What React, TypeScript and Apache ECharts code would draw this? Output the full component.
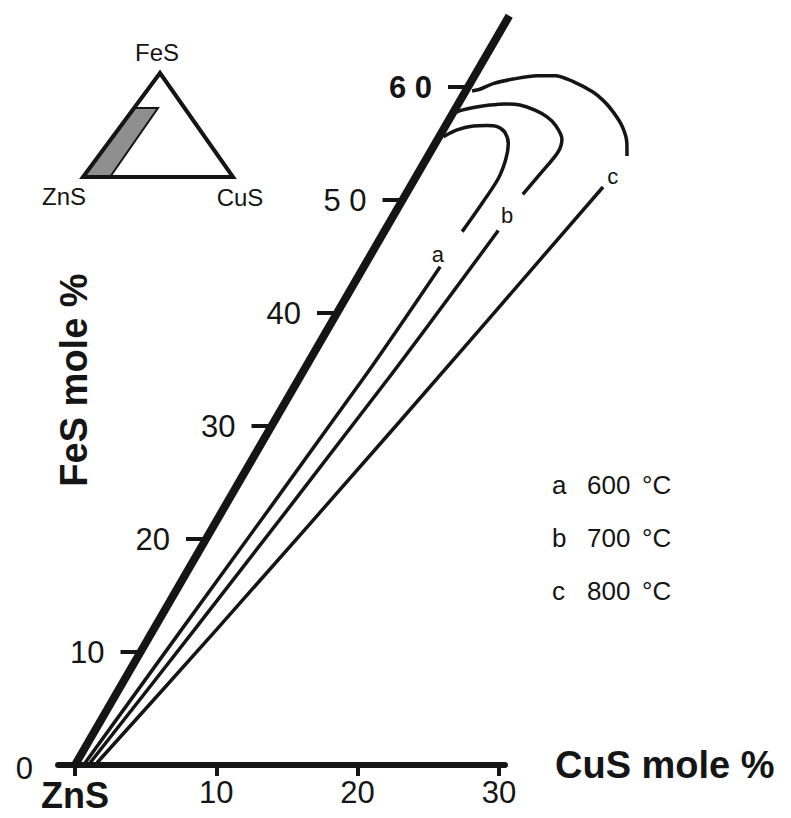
import React, { useEffect, useRef } from "react";
import * as echarts from "echarts";

// ---- axis ticks ----
const cusTicks = [0, 10, 20, 30];
const cusTickLabels = ["ZnS", "10", "20", "30"];
const fesTicks = [0, 10, 20, 30, 40, 50, 60];
const fesTickLabels = ["0", "10", "20", "30", "40", "5 0", "6 0"];
const fesAxisEnd = 66.3;

// ---- curves, points as [CuS mole %, FeS mole %] ----
const curveALower = [[0.63, 0.2], [1.99, 12.0], [4.55, 34.2], [5.4, 44.1]];
const curveAUpper = [[5.52, 47.2], [5.76, 49.6], [5.9, 51.9], [5.64, 53.6], [5.17, 55.0], [4.46, 56.0], [3.69, 56.5], [2.9, 56.6], [1.95, 56.55], [0.99, 56.2], [0.3, 55.6]];
const curveBLower = [[0.98, 0.2], [2.91, 12.0], [6.32, 34.2], [8.03, 47.3]];
const curveBUpper = [[8.28, 50.5], [8.69, 52.4], [9.04, 54.25], [8.78, 55.4], [7.78, 56.6], [6.82, 57.35], [5.69, 57.95], [4.42, 58.4], [3.31, 58.5], [2.29, 58.4], [1.32, 58.2], [0.52, 57.95], [0.1, 57.7]];
const curveCLower = [[1.47, 0.2], [4.47, 12.0], [8.89, 30.4], [13.66, 51.15]];
const curveCUpper = [[14.08, 53.9], [13.51, 55.1], [12.5, 56.55], [11.29, 57.8], [10.2, 58.75], [9.05, 59.55], [7.18, 60.5], [5.71, 61.0], [4.43, 61.0], [2.86, 60.7], [1.64, 60.3], [0.93, 59.8], [0.45, 59.65]];

const curveLetters = ["a", "b", "c"];
const curveLetterPos = [[4.73, 45.2], [8.05, 48.6], [13.91, 52.1]];

// ---- legend ----
const legendLetters = ["a", "b", "c"];
const legendTemps = ["600", "700", "800"];
const legendUnit = "°C";

// ---- inset ternary labels ----
const insetLabels = ["FeS", "ZnS", "CuS"];

// ---- geometry (skewed axes) ----
const PX_CUS = 14.13; // px per CuS unit
const PX_FES_Y = 11.3; // vertical px per FeS unit
const SHEAR = 6.55 / 14.13; // horizontal shift per FeS unit, in CuS units
const ORIGIN_X = 75;
const ORIGIN_Y = 765;
const X_MIN = -1.2;
const X_MAX = 30.43;
const X_MAX_DATA = 48;
const Y_MAX = 67.5;

const INK = "#151515";
const FONT = '"Liberation Sans", Arial, Helvetica, sans-serif';

const shear = (p: number[]) => [p[0] + SHEAR * p[1], p[1]];

export default function App() {
  const ref = useRef<HTMLDivElement>(null);
  useEffect(() => {
    if (!ref.current) return;
    const chart = echarts.init(ref.current, undefined, { renderer: "svg" });

    const curve = (data: number[][]) => ({
      type: "line",
      xAxisIndex: 0,
      yAxisIndex: 0,
      data: data.map(shear),
      showSymbol: false,
      smooth: 0.3,
      clip: false,
      lineStyle: { color: INK, width: 3.5 },
      silent: true,
      z: 3,
    });

    const graphic: any[] = [];
    // inset triangle
    graphic.push({
      type: "polygon",
      shape: { points: [[83, 177], [135, 108], [158, 108], [110, 177]] },
      style: { fill: "#8f8f8f", stroke: INK, lineWidth: 2 },
    });
    graphic.push({
      type: "polygon",
      shape: { points: [[160, 73], [83, 177], [233, 177]] },
      style: { fill: "none", stroke: INK, lineWidth: 4 },
    });
    const insetPos = [[157, 52], [64, 196], [240, 197]];
    insetLabels.forEach((t, i) =>
      graphic.push({
        type: "text",
        x: insetPos[i][0],
        y: insetPos[i][1],
        style: { text: t, fontSize: 24, fontFamily: FONT, fill: INK, align: "center", verticalAlign: "middle" },
      })
    );
    // FeS axis title
    graphic.push({
      type: "text",
      x: 74,
      y: 380,
      rotation: Math.PI / 2,
      style: { text: "FeS mole %", fontSize: 38, fontWeight: "bold", fontFamily: FONT, fill: INK, align: "center", verticalAlign: "middle" },
    });
    // legend
    const legendY = [485, 538, 591];
    legendLetters.forEach((l, i) => {
      graphic.push({ type: "text", x: 552, y: legendY[i], style: { text: l, fontSize: 26, fontFamily: FONT, fill: INK, align: "left", verticalAlign: "middle" } });
      graphic.push({ type: "text", x: 587, y: legendY[i], style: { text: legendTemps[i], fontSize: 26, fontFamily: FONT, fill: INK, align: "left", verticalAlign: "middle" } });
      graphic.push({ type: "text", x: 642, y: legendY[i], style: { text: legendUnit, fontSize: 26, fontFamily: FONT, fill: INK, align: "left", verticalAlign: "middle" } });
    });

    const gridTop = ORIGIN_Y - Y_MAX * PX_FES_Y;
    const gridHeight = Y_MAX * PX_FES_Y;
    const gridLeft = ORIGIN_X + X_MIN * PX_CUS;

    const option: any = {
      animation: false,
      backgroundColor: "#ffffff",
      grid: [
        // data grid (wide, hidden axes)
        { left: gridLeft, width: (X_MAX_DATA - X_MIN) * PX_CUS, top: gridTop, height: gridHeight, containLabel: false },
        // visible CuS axis grid
        { left: gridLeft, width: (X_MAX - X_MIN) * PX_CUS, top: gridTop, height: gridHeight, containLabel: false },
      ],
      xAxis: [
        { type: "value", gridIndex: 0, min: X_MIN, max: X_MAX_DATA, show: false },
        {
          type: "value",
          gridIndex: 1,
          min: X_MIN,
          max: X_MAX,
          axisLine: { show: true, onZero: false, lineStyle: { color: INK, width: 6 } },
          axisTick: { show: true, customValues: cusTicks, length: 11, lineStyle: { color: INK, width: 4 } },
          axisLabel: {
            show: true,
            customValues: cusTicks,
            margin: 12,
            formatter: (v: number) => {
              const i = cusTicks.indexOf(Math.round(v));
              const t = i >= 0 ? cusTickLabels[i] : "";
              return i === 0 ? "{z|" + t + "}" : t;
            },
            color: INK,
            fontSize: 31,
            fontFamily: FONT,
            rich: { z: { fontSize: 36, fontWeight: "bold", fontFamily: FONT, color: INK } },
          },
          splitLine: { show: false },
          name: "CuS mole %",
          nameLocation: "end",
          nameGap: 50,
          nameTextStyle: { fontSize: 38, fontWeight: "bold", fontFamily: FONT, color: INK, align: "left", verticalAlign: "middle", padding: [10, 0, 0, 0] },
        },
      ],
      yAxis: [
        { type: "value", gridIndex: 0, min: 0, max: Y_MAX, show: false },
        { type: "value", gridIndex: 1, min: 0, max: Y_MAX, show: false },
      ],
      graphic,
      series: [
        {
          type: "line",
          xAxisIndex: 0,
          yAxisIndex: 0,
          data: [shear([0, 0]), shear([0, fesAxisEnd])],
          showSymbol: false,
          clip: false,
          silent: true,
          lineStyle: { color: INK, width: 8 },
          z: 4,
        },
        curve(curveALower),
        curve(curveAUpper),
        curve(curveBLower),
        curve(curveBUpper),
        curve(curveCLower),
        curve(curveCUpper),
        {
          type: "custom",
          coordinateSystem: "cartesian2d",
          xAxisIndex: 0,
          yAxisIndex: 0,
          data: fesTicks.map((v, i) => [v, i]),
          clip: false,
          silent: true,
          z: 5,
          renderItem: (params: any, api: any) => {
            const v = api.value(0) as number;
            const idx = api.value(1) as number;
            const p = api.coord(shear([0, v]));
            const children: any[] = [];
            if (v > 0) {
              children.push({
                type: "line",
                shape: { x1: p[0] - 20, y1: p[1], x2: p[0], y2: p[1] },
                style: { stroke: INK, lineWidth: 4 },
              });
            }
            children.push({
              type: "text",
              style: {
                text: fesTickLabels[idx],
                x: p[0] - (v === 0 ? 42 : 36),
                y: p[1] + (v === 0 ? 3 : 0),
                align: "right",
                verticalAlign: "middle",
                fontSize: 31,
                fontWeight: v === 60 ? "bold" : "normal",
                fontFamily: FONT,
                fill: INK,
              },
            });
            return { type: "group", children };
          },
        },
        {
          type: "custom",
          coordinateSystem: "cartesian2d",
          xAxisIndex: 0,
          yAxisIndex: 0,
          data: curveLetterPos.map((p, i) => [p[0], p[1], i]),
          clip: false,
          silent: true,
          z: 6,
          renderItem: (params: any, api: any) => {
            const p = api.coord(shear([api.value(0), api.value(1)]));
            return {
              type: "text",
              style: {
                text: curveLetters[api.value(2) as number],
                x: p[0],
                y: p[1],
                align: "center",
                verticalAlign: "middle",
                fontSize: 22,
                fontFamily: FONT,
                fill: INK,
              },
            };
          },
        },
      ],
    };
    chart.setOption(option);
    return () => chart.dispose();
  }, []);
  return <div ref={ref} style={{ position: "absolute", left: 0, top: 0, width: 791, height: 818, background: "#fff" }} />;
}
